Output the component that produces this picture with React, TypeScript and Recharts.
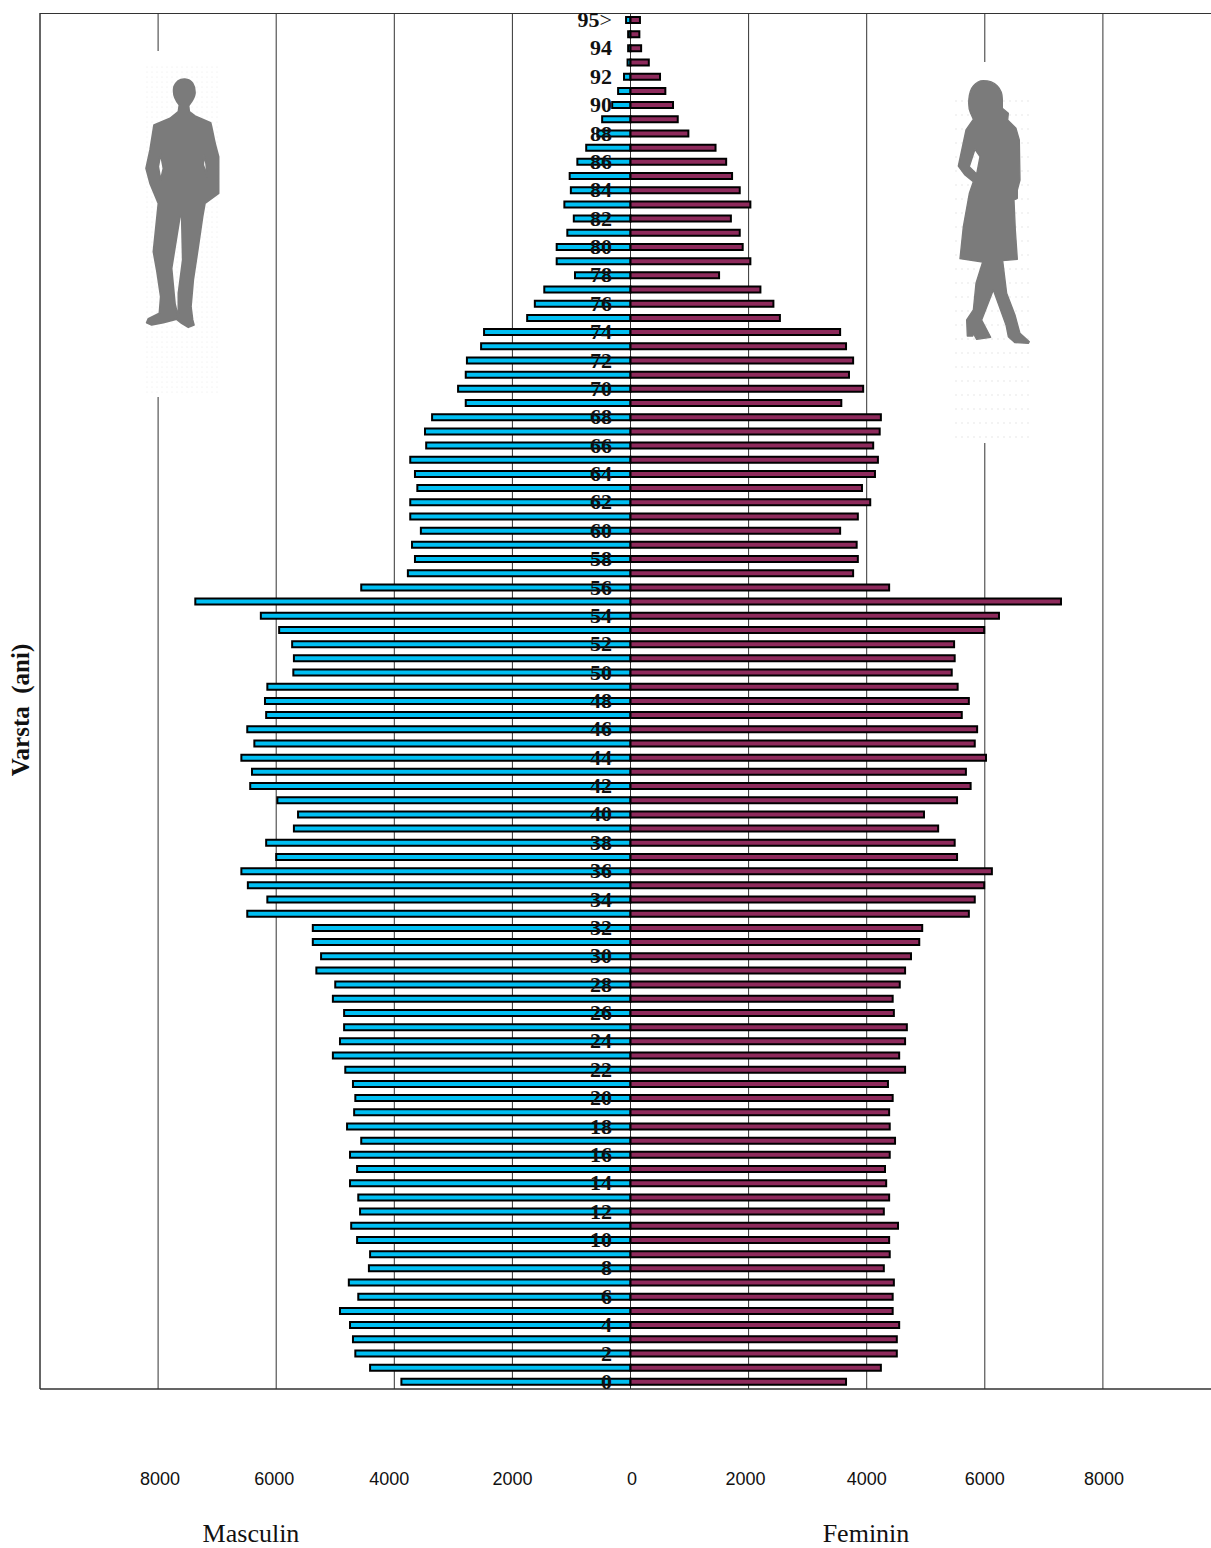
import { BarChart, Bar, XAxis, YAxis, CartesianGrid } from 'recharts';

const ages = [
  '95>', '95', '94', '93', '92', '91', '90', '89', '88', '87',
  '86', '85', '84', '83', '82', '81', '80', '79', '78', '77',
  '76', '75', '74', '73', '72', '71', '70', '69', '68', '67',
  '66', '65', '64', '63', '62', '61', '60', '59', '58', '57',
  '56', '55', '54', '53', '52', '51', '50', '49', '48', '47',
  '46', '45', '44', '43', '42', '41', '40', '39', '38', '37',
  '36', '35', '34', '33', '32', '31', '30', '29', '28', '27',
  '26', '25', '24', '23', '22', '21', '20', '19', '18', '17',
  '16', '15', '14', '13', '12', '11', '10', '9', '8', '7',
  '6', '5', '4', '3', '2', '1', '0',
];

const masculin = [
  75, 40, 40, 50, 110, 210, 310, 480, 560, 750,
  900, 1030, 1010, 1120, 960, 1070, 1250, 1250, 940, 1460,
  1620, 1750, 2480, 2530, 2770, 2790, 2920, 2790, 3360, 3480,
  3460, 3730, 3650, 3610, 3730, 3730, 3550, 3700, 3650, 3770,
  4560, 7370, 6260, 5950, 5730, 5700, 5710, 6150, 6190, 6170,
  6490, 6370, 6590, 6410, 6440, 5980, 5630, 5700, 6170, 6000,
  6590, 6480, 6150, 6490, 5380, 5380, 5240, 5320, 5000, 5040,
  4850, 4850, 4920, 5040, 4830, 4700, 4660, 4680, 4800, 4560,
  4750, 4630, 4750, 4610, 4580, 4730, 4630, 4410, 4430, 4770,
  4610, 4920, 4750, 4700, 4660, 4410, 3880,
];

const feminin = [
  160, 150, 180, 310, 500, 590, 720, 800, 980, 1440,
  1620, 1720, 1850, 2030, 1700, 1850, 1900, 2030, 1500, 2200,
  2420, 2530, 3550, 3650, 3770, 3700, 3940, 3570, 4240, 4220,
  4110, 4190, 4140, 3920, 4060, 3850, 3550, 3830, 3850, 3770,
  4380, 7290, 6240, 5990, 5480, 5490, 5440, 5540, 5730, 5610,
  5870, 5830, 6020, 5680, 5760, 5530, 4970, 5210, 5490, 5530,
  6120, 5990, 5830, 5730, 4940, 4890, 4750, 4650, 4560, 4440,
  4460, 4680, 4650, 4550, 4650, 4360, 4440, 4380, 4390, 4480,
  4390, 4310, 4330, 4380, 4290, 4530, 4380, 4390, 4290, 4460,
  4440, 4440, 4550, 4510, 4510, 4240, 3650,
];

const xTicks = [-8000, -6000, -4000, -2000, 0, 2000, 4000, 6000, 8000];

const hiddenAgeLabels = ['95', '93', '91', '89', '87', '85', '83', '81', '79', '77', '75', '73', '71', '69', '67', '65', '63', '61', '59', '57', '55', '53', '51', '49', '47', '45', '43', '41', '39', '37', '35', '33', '31', '29', '27', '25', '23', '21', '19', '17', '15', '13', '11', '9', '7', '5', '3', '1'];

const data = ages.map((age, i) => ({ age, masculin: -masculin[i], feminin: feminin[i] }));

const serif = '"Liberation Serif", serif';
const sans = '"Liberation Sans", sans-serif';

// labels in the original were placed by hand, so they sit a little off the grid
const tickNudge: Record<number, number> = { [-8000]: 2, [-6000]: -2, [-4000]: -5, [-2000]: 0, 0: 1.5, 2000: -3, 4000: 0, 6000: 0, 8000: 1 };

const ValueTick = ({ x, y, payload }: any) => (
  <text x={x + tickNudge[payload.value]} y={y + 83} textAnchor="middle" dominantBaseline="middle" fontFamily={sans} fontSize={18} fill="#111">
    {Math.abs(payload.value)}
  </text>
);

const AgeTick = ({ y, payload }: any) => {
  if (hiddenAgeLabels.includes(payload.value)) return null;
  const open = payload.value === '95>';
  return (
    <text x={612} y={y + 7} textAnchor="end" fontFamily={serif} fontSize={22} fontWeight="bold" fill="#111">
      {open ? '95' : payload.value}
      {open && <tspan fontWeight="normal">&gt;</tspan>}
    </text>
  );
};

const Man = () => (
  <g>
    <rect x={143} y={51} width={76} height={346} fill="#fff" />
    <rect x={145} y={63} width={73} height={330} fill="url(#manDots)" />
    <g transform="translate(130,40) scale(0.3333)">
      <path
        fill="#7b7b7b"
        stroke="#7b7b7b"
        strokeWidth={5}
        strokeLinejoin="round"
        fillRule="evenodd"
        d="M165,117 C185,118 196,135 195,160 C193,178 180,190 176,198 L178,215 L195,228 L242,248 C248,270 252,300 258,320 L266,350 L266,460 L225,490 L218,530 L205,620 L190,720 L183,800 L188,840 L192,855 L175,862 L155,850 L140,838 L100,848 L65,855 L50,848 L55,836 L88,820 L92,770 L80,690 L70,635 L85,490 L60,430 L48,385 L60,330 L72,255 L120,235 L145,215 L148,195 C135,180 128,160 132,140 C138,125 150,116 165,117 Z
        M155,530 L150,530 L125,685 L135,790 L145,835 L145,760 L158,660 Z
        M92,342 L85,380 L92,420 L100,385 Z
        M222,345 L220,375 L232,410 L228,370 Z"
      />
    </g>
  </g>
);

const Woman = () => (
  <g>
    <rect x={953} y={62} width={80} height={381} fill="#fff" />
    <rect x={955} y={97} width={78} height={343} fill="url(#womanDots)" />
    <g transform="translate(940,50) scale(0.3333)">
      <path
        fill="#7b7b7b"
        stroke="#7b7b7b"
        strokeWidth={4}
        strokeLinejoin="round"
        fillRule="evenodd"
        d="M130,92 C165,92 188,115 187,150 L187,175 L205,190 L203,210 L228,235 L238,270 L240,390 L232,420 L232,445 L222,450 L226,540 L232,628 L188,632 L200,730 L225,795 L240,850 L268,875 L265,880 L225,878 L205,860 L198,825 L160,720 L125,810 L152,862 L110,868 L100,850 L98,858 L82,858 L80,810 L100,780 L108,700 L128,636 L60,626 L70,530 L88,430 L100,395 L75,375 L55,348 L78,240 L100,208 L92,190 C82,170 85,125 100,108 C108,98 118,92 130,92 Z
        M105,298 L120,320 L110,372 L88,350 Z"
      />
    </g>
  </g>
);

export default function App() {
  return (
    <div style={{ position: 'absolute', left: 0, top: 0, width: 1211, height: 1548, overflow: 'hidden', background: '#fff' }}>
      <BarChart
        width={1221}
        height={1548}
        data={data}
        layout="vertical"
        stackOffset="sign"
        barCategoryGap={0}
        margin={{ top: 13, right: 0, bottom: 0, left: 0 }}
      >
        <CartesianGrid stroke="#333" horizontalPoints={[13.5, 1389]} />
        <XAxis
          type="number"
          domain={[-10000, 10000]}
          ticks={xTicks}
          height={159}
          stroke="#333"
          tickLine={false}
          tick={<ValueTick />}
          interval={0}
          allowDataOverflow
        />
        <YAxis type="category" dataKey="age" width={40} stroke="#333" tickLine={false} tick={<AgeTick />} interval={0} />
        <Bar dataKey="masculin" stackId="a" fill="#00BFF3" stroke="#000" strokeWidth={2} barSize={6} isAnimationActive={false} />
        <Bar dataKey="feminin" stackId="a" fill="#8E2A5C" stroke="#000" strokeWidth={2} barSize={6} isAnimationActive={false} />
      </BarChart>
      <svg width={1211} height={1548} style={{ position: 'absolute', left: 0, top: 0, pointerEvents: 'none' }}>
        <defs>
          <pattern id="manDots" width={5} height={5} patternUnits="userSpaceOnUse">
            <circle cx={2} cy={2} r={0.6} fill="#e6e6e6" />
          </pattern>
          <pattern id="womanDots" width={6} height={14} patternUnits="userSpaceOnUse">
            <circle cx={2} cy={3} r={0.7} fill="#dddddd" />
          </pattern>
        </defs>
        <Man />
        <Woman />
        <text x={251} y={1542} textAnchor="middle" fontFamily={serif} fontSize={26} fill="#111">Masculin</text>
        <text x={866} y={1542} textAnchor="middle" fontFamily={serif} fontSize={26} fill="#111">Feminin</text>
        <text
          transform="translate(29,710) rotate(-90)"
          textAnchor="middle"
          fontFamily={serif}
          fontSize={25}
          fontWeight="bold"
          fill="#111"
          style={{ whiteSpace: 'pre' }}
        >
          Varsta  (ani)
        </text>
      </svg>
    </div>
  );
}
